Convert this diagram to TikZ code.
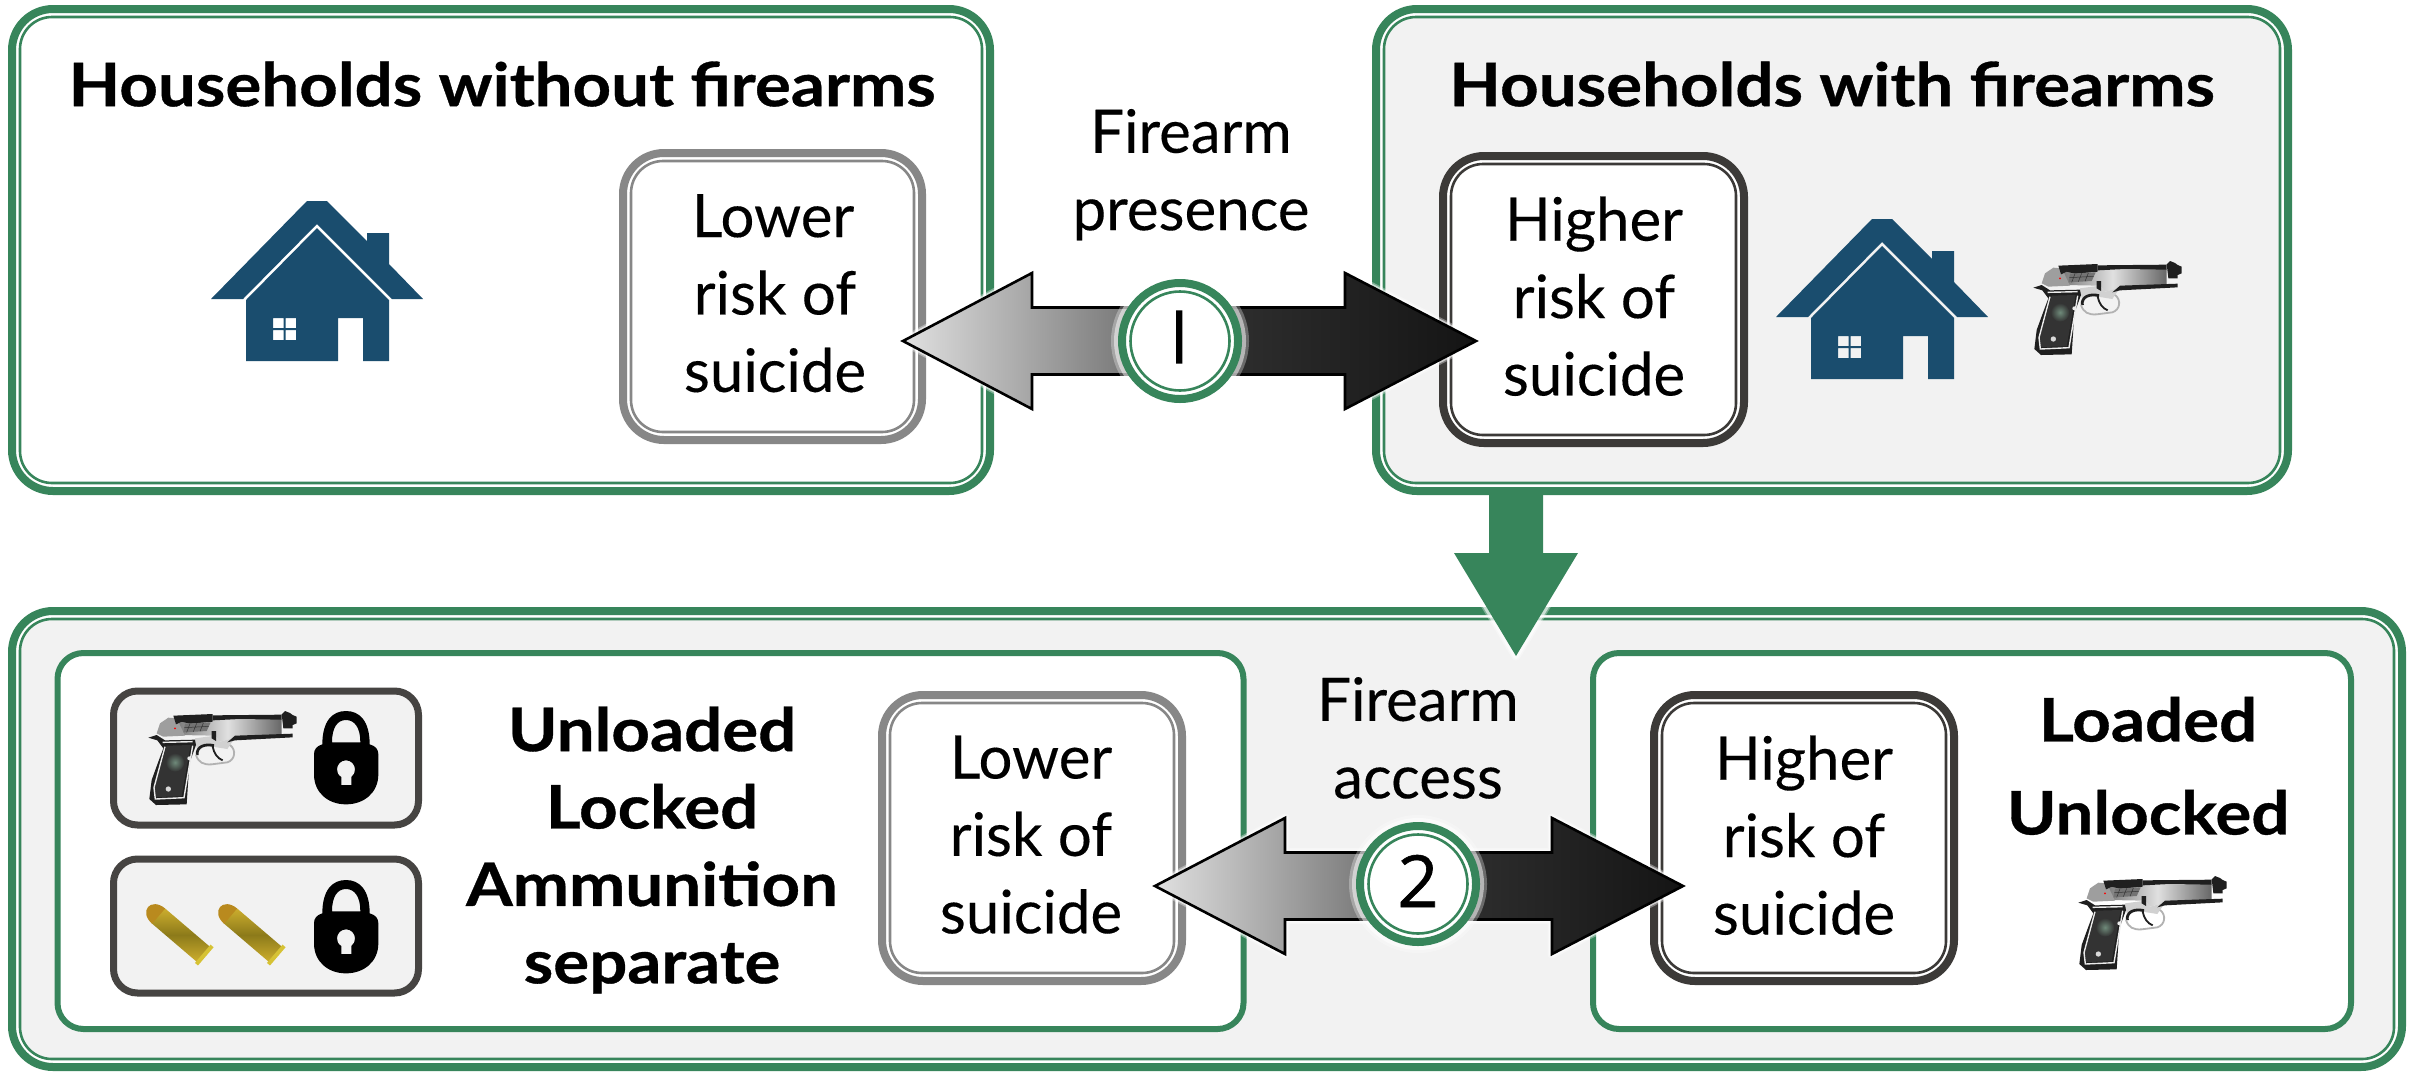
\documentclass[tikz,border=0pt]{standalone}
\usepackage{fontspec}
\setmainfont{Lato}[FakeBold=0.2,BoldFeatures={FakeStretch=1.12,FakeBold=0.6}]
\newfontfamily\digitfont[FakeBold=0.8]{Open Sans}
\newfontfamily\barfont[FakeBold=2.5]{Open Sans}
\usetikzlibrary{calc}
\definecolor{grn}{HTML}{37855B}
\definecolor{blu}{HTML}{1A4D6E}
\definecolor{dkb}{HTML}{3C3A38}
\definecolor{gyb}{HTML}{878787}
\definecolor{pan}{HTML}{F2F2F2}
\definecolor{bnose}{HTML}{B98A1E}
\definecolor{bedge}{HTML}{CDAE2E}
\definecolor{bmid}{HTML}{8C7A1A}
\definecolor{brim}{HTML}{D6C234}
\definecolor{gdot}{HTML}{6F8A7A}
\tikzset{
  outerbox/.style={rectangle,rounded corners=20.5pt,line width=4pt,inner sep=0pt,outer sep=0pt,fill=white},
  innerbox/.style={rectangle,rounded corners=16pt,line width=1.3pt,inner sep=0pt,outer sep=0pt},
  plainbox/.style={rectangle,rounded corners=13pt,line width=3pt,inner sep=0pt,outer sep=0pt,draw=grn,fill=white},
  keybox/.style={rectangle,rounded corners=12pt,line width=3.5pt,inner sep=0pt,outer sep=0pt,draw=dkb!95,fill=pan},
  txt/.style={anchor=north,inner sep=0pt,outer sep=0pt,align=center,font=\fontsize{30}{38.7}\selectfont},
  btxt/.style={txt,font=\fontsize{30}{38.7}\selectfont\bfseries},
  gloss/.style={preaction={draw=white,line width=4.5pt,opacity=.35,line join=round},preaction={draw=white,line width=3pt,opacity=.6,line join=round}},
  house/.pic={
    \fill[blu] (92,0)--(112,0)--(152,40)--(152,32)--(174,32)--(174,63)--(208,98)--(177,98)--(102,23)--(28,98)--(-4,98)--cycle;
    \fill[blu,even odd rule] (102,27)--(174,99)--(174,160)--(148,160)--(148,117)--(123,117)--(123,160)--(31,160)--(31,99)--cycle
      (58,117) rectangle (68.5,127) (70.5,117) rectangle (81,127) (58,129) rectangle (68.5,139) (70.5,129) rectangle (81,139);
  },
  gun/.pic={
    \begin{scope}[x=.16667pt,y=-.16667pt,shift={(-24,-21)}]
      % slide
      \path[left color=black!55,right color=black!60,middle color=black!12] (100,45)--(425,42)--(425,92)--(285,98)--(240,110)--(225,92)--(120,90)--cycle;
      % frame under the slide
      \fill[black!18] (165,100)--(225,92)--(240,110)--(285,98)--(262,132)--(200,122)--(170,130)--cycle;
      % rear of slide and hammer
      \fill[black!38] (60,55)--(85,38)--(110,40)--(135,92)--(70,95)--(50,85)--cycle;
      \fill[black!88] (100,32)--(218,27)--(218,50)--(150,56)--(125,50)--(108,58)--cycle;
      \fill[black!88] (218,31)--(425,29)--(425,44)--(300,42)--(218,46)--cycle;
      \fill[black!55] (135,56)--(212,52)--(200,78)--(130,82)--cycle;
      \draw[black!80,line width=.25pt] (150,56)--(140,82) (170,55)--(160,80) (190,54)--(180,79) (133,68)--(206,64);
      % muzzle
      \fill[black!88] (425,28)--(435,18)--(450,24)--(458,30)--(470,35)--(470,55)--(458,60)--(458,70)--(430,70)--cycle;
      \fill[black!88] (285,92)--(458,86)--(458,97)--(285,106)--(262,112)--cycle;
      \fill[black!88] (215,78)--(228,78)--(228,108)--(215,100)--cycle;
      % grip
      \fill[black!88] (25,98)--(50,90)--(75,106)--(165,104)--(168,120)--(148,175)--(140,298)--(48,300)--(28,282)--(35,225)--(55,170)--(70,130)--(52,106)--cycle;
      \fill[black!80] (80,122)--(152,120)--(125,274)--(46,276)--(44,250)--cycle;
      \draw[black!8,line width=.7pt] (68,112)--(158,110) (75,125)--(42,248)--(46,282)--(132,278)--(158,122);
      \shade[inner color=gdot,outer color=black!80] (105,172) circle (28);
      \fill[black!15] (85,252) circle (8);
      \fill[black!8] (148,160) circle (6);
      % guard and trigger
      \draw[black!88,line width=1.4pt] (172,150) .. controls (168,125) and (195,115) .. (222,122);
      \draw[black!30,line width=.9pt] (168,150) .. controls (175,172) and (190,180) .. (215,178) -- (262,172) .. controls (285,165) and (290,135) .. (270,120);
      \draw[black!88,line width=.9pt] (218,125) .. controls (222,145) and (232,160) .. (248,166);
      \fill[red] (105,70) circle (3);
    \end{scope}
  },
  padlock/.pic={
    \begin{scope}[x=.16667pt,y=-.16667pt]
      \fill[black,even odd rule] (25,100) .. controls (25,30) and (55,0) .. (96,0) .. controls (137,0) and (167,30) .. (167,100) .. controls (185,105) and (193,115) .. (193,130) -- (193,190) .. controls (193,245) and (150,280) .. (96,280) .. controls (42,280) and (0,245) .. (0,190) -- (0,130) .. controls (0,115) and (8,105) .. (25,100) -- cycle
      (54,94) .. controls (54,50) and (70,27) .. (96,27) .. controls (122,27) and (139,50) .. (139,94) -- cycle
      (82,222) -- (82,198) .. controls (72,192) and (69,184) .. (69,175) .. controls (69,160) and (81,148) .. (96,148) .. controls (111,148) and (123,160) .. (123,175) .. controls (123,184) and (120,192) .. (112,198) -- (112,222) -- cycle;
    \end{scope}
  },
  bullet/.pic={
    \begin{scope}[x=.16667pt,y=-.16667pt,rotate=-40.5]
      \path[top color=bedge,bottom color=bedge,middle color=bmid] (40,-30) -- (218,-30) -- (218,30) -- (40,30) -- cycle;
      \fill[bnose] (42,-30) .. controls (15,-30) and (0,-15) .. (0,0) .. controls (0,15) and (15,30) .. (42,30) -- cycle;
      \fill[brim] (216,-36) -- (228,-36) -- (228,36) -- (216,36) -- cycle;
    \end{scope}
  },
}
\newcommand{\dblbox}[7]{%
  \pgfmathsetmacro\bcx{(#2+#4)/2}\pgfmathsetmacro\bcy{(#3+#5)/2}%
  \pgfmathsetmacro\bow{(#4-#2-8)*.5}\pgfmathsetmacro\boh{(#5-#3-8)*.5}%
  \pgfmathsetmacro\biw{(#4-#2-24)*.5}\pgfmathsetmacro\bih{(#5-#3-24)*.5}%
  \node[outerbox,draw=#6,minimum width=\bow pt,minimum height=\boh pt] (#1) at (\bcx,\bcy) {};
  \node[innerbox,draw=#6,fill=#7,minimum width=\biw pt,minimum height=\bih pt] (#1-in) at (\bcx,\bcy) {};
}
\newcommand{\oneline}[5]{% style,name,x,first baseline,text
  \pgfmathsetmacro\tty{#4-42.5}%
  \node[#1] (#2) at (#3,\tty) {#5};
}
\newcommand{\blockarrow}[4]{% tip, head length, circle centre, shading
  \path[draw=black,line width=1.3pt,miter limit=8,gloss,#4]
    (#1) -- ++(#2,-68) -- ++(0,34.5) -- ($(#3 |- #1)+(0,-33.5)$) -- ($(#3 |- #1)+(0,33.5)$) -- ($(#1)+(#2,33.5)$) -- ++(0,34.5) -- cycle;
}
\newcommand{\ringnode}[2]{% name, position
  \node[circle,draw=grn,line width=4pt,fill=white,minimum size=58pt,inner sep=0pt,outer sep=0pt,
    preaction={draw=white,line width=11pt,opacity=.3},preaction={draw=white,line width=8pt,opacity=.5}] (#1) at (#2) {};
  \node[circle,draw=grn,line width=1.3pt,fill=white,minimum size=49.5pt,inner sep=0pt,outer sep=0pt] (#1-in) at (#2) {};
}
\begin{document}
\begin{tikzpicture}[x=.5pt,y=-.5pt]
\useasboundingbox (0,0) rectangle (2420,1072);
% lower panel and the arrow entering it
\dblbox{panelC}{8}{607}{2406}{1071}{grn}{pan}
\coordinate (gstart) at (1516,490);
\coordinate (gtip) at (1516,656);
\path[fill=grn,gloss] (gtip) -- ++(62,-103) -- ++(-35,0) -- ($(gstart)+(27,0)$) -- ($(gstart)+(-27,0)$) -- ($(gtip)+(-27,-103)$) -- ++(-35,0) -- cycle;
% upper panels
\dblbox{panelA}{8}{5}{994}{495}{grn}{white}
\dblbox{panelB}{1372}{5}{2292}{495}{grn}{pan}
\oneline{btxt}{titleA}{502}{104}{Households without firearms}
\oneline{btxt}{titleB}{1832}{104}{Households with firearms}
\dblbox{lowA}{619}{149}{926}{444}{gyb}{white}
\dblbox{highA}{1439}{152}{1748}{447}{dkb}{white}
\oneline{txt}{lowAt}{775}{236.6}{\kern-2pt Lower\\risk of\\suicide}
\oneline{txt}{highAt}{1594}{239}{Higher\\risk of\\suicide}
\pic (houseA) at (215,201) {house};
\pic (houseB) at (1780,219) {house};
\pic (gunB) at (2033,262) {gun};
\oneline{txt}{presence}{1191}{151.5}{Firearm\\presence}
% first comparison
\coordinate (c1pos) at (1180,341);
\coordinate (tip1L) at (903,341);
\coordinate (tip1R) at (1476,341);
\blockarrow{tip1L}{129}{c1pos}{left color=black!12,right color=black!62}
\blockarrow{tip1R}{-131}{c1pos}{left color=black!80,right color=black!92}
\ringnode{c1}{c1pos}
\begin{scope}
  \clip (1176,308) rectangle (1184,367);
  \node[inner sep=0pt,font=\fontsize{36}{36}\barfont] (d1) at (1177,337) {1};
\end{scope}
% lower inner panels
\node[plainbox,minimum width=593pt,minimum height=188pt] (inL) at (650.5,841) {};
\node[plainbox,minimum width=379pt,minimum height=188pt] (inR) at (1972,841) {};
\node[keybox,minimum width=152.5pt,minimum height=67pt] (keyG) at (266,758) {};
\node[keybox,minimum width=152.5pt,minimum height=67pt] (keyA) at (266,926) {};
\pic (gunK) at (148,712) {gun};
\pic (lockG) at (314,711) {padlock};
\pic (lockA) at (314,880) {padlock};
\pic (b1) at (148,907) {bullet};
\pic (b2) at (220,907) {bullet};
\oneline{btxt}{safe}{652}{749}{Unloaded\\Locked\\Ammunition\\separate}
\dblbox{lowB}{878}{691}{1186}{985}{gyb}{white}
\dblbox{highB}{1650}{691}{1958}{985}{dkb}{white}
\oneline{txt}{lowBt}{1031}{778}{Lower\\risk of\\suicide}
\oneline{txt}{highBt}{1804}{778}{Higher\\risk of\\suicide}
\oneline{btxt}{unsafe}{2148}{739.4}{Loaded\\[7.8pt]Unlocked}
\pic (gunL) at (2078,877) {gun};
\oneline{txt}{access}{1418}{719.6}{Firearm\\access}
% second comparison
\coordinate (c2pos) at (1418,884);
\coordinate (tip2L) at (1155,886);
\coordinate (tip2R) at (1683,886);
\blockarrow{tip2L}{130}{c2pos}{left color=black!12,right color=black!62}
\blockarrow{tip2R}{-131}{c2pos}{left color=black!80,right color=black!92}
\ringnode{c2}{c2pos}
\node[inner sep=0pt,font=\fontsize{36}{36}\digitfont] (d2) at (1418,881) {2};
\end{tikzpicture}
\end{document}
